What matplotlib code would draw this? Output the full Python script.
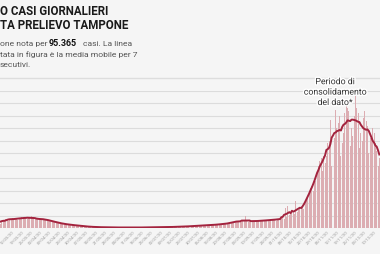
import numpy as np
import pandas as pd
import matplotlib
matplotlib.use("Agg")
import matplotlib.pyplot as plt
import matplotlib.dates as mdates
from matplotlib.lines import Line2D
import matplotlib.patheffects as pe

# daily cases by swab date, one row per week
weeks = [
    [180, 240, 290, 330, 350, 340, 300],
    [330, 370, 390, 380, 360, 350, 340],
    [380, 410, 430, 420, 400, 390, 380],
    [400, 420, 480, 410, 390, 380, 360],
    [370, 380, 360, 350, 340, 360, 350],
    [330, 300, 310, 290, 270, 260, 250],
    [240, 220, 210, 200, 190, 170, 160],
    [160, 150, 140, 145, 130, 120, 115],
    [115, 110, 100, 95, 90, 85, 80],
    [75, 70, 60, 55, 55, 50, 45],
    [45, 40, 42, 38, 35, 33, 30],
    [32, 30, 28, 30, 26, 25, 24],
    [25, 26, 22, 24, 23, 20, 22],
    [21, 19, 20, 22, 18, 17, 20],
    [18, 20, 21, 19, 22, 20, 18],
    [20, 22, 24, 23, 21, 25, 22],
    [24, 26, 25, 28, 27, 24, 26],
    [28, 30, 32, 35, 31, 29, 33],
    [36, 40, 42, 45, 38, 41, 44],
    [48, 52, 58, 60, 55, 50, 57],
    [62, 68, 75, 72, 70, 66, 78],
    [82, 88, 95, 92, 90, 85, 98],
    [100, 105, 115, 112, 108, 104, 118],
    [125, 135, 150, 145, 140, 130, 155],
    [160, 175, 190, 185, 180, 170, 200],
    [230, 250, 275, 270, 265, 240, 280],
    [260, 275, 290, 470, 280, 250, 270],
    [265, 280, 295, 290, 285, 255, 270],
    [280, 300, 315, 310, 305, 275, 310],
    [310, 330, 350, 345, 340, 300, 335],
    [340, 370, 400, 390, 380, 820, 430],
    [900, 520, 560, 600, 620, 560, 1080],
    [640, 720, 800, 820, 860, 780, 1000],
    [1100, 1300, 1500, 1600, 1700, 1500, 1900],
    [1900, 2200, 2500, 2700, 2800, 2300, 2900],
    [2600, 2900, 3400, 3500, 4350, 2500, 3300],
    [3600, 4750, 4000, 4200, 4500, 2900, 3400],
    [3800, 4600, 5050, 4800, 4700, 3300, 4000],
    [3700, 4500, 5450, 4800, 4600, 3200, 3800],
    [3500, 4400, 4700, 4300, 4100, 3000, 3600],
    [3600, 4000, 3800, 3400, 3100, 2500, 2800],
]
start_date = "2020-03-01"
title_lines = ["O CASI GIORNALIERI", "TA PRELIEVO TAMPONE"]
note_lines = ["Periodo di", "consolidamento", "del dato*"]

cases = [v for w in weeks for v in w]
dates = pd.date_range(start_date, periods=len(cases), freq="D")
s = pd.Series(cases, index=dates)
ma = s.rolling(7, center=True, min_periods=1).mean()

plt.rcParams["font.family"] = ["Roboto", "DejaVu Sans"]

bg = "#f5f5f5"
W, H = 380, 255
fig = plt.figure(figsize=(W / 100, H / 100), dpi=100, facecolor=bg)

def px(x, y):
    return x / W, 1 - y / H

ax = fig.add_axes([0, (H - 229) / H, 1, (229 - 92) / H])
ax.set_facecolor(bg)
ax.bar(dates, s.values, width=0.75, color="#dcadb2", zorder=2)
ax.plot(dates, ma.values, color="#a3233e", lw=1.4, zorder=3)
ax.set_ylim(0, 5500)
ax.set_xlim(dates[0] - pd.Timedelta(days=0.5), dates[-1] + pd.Timedelta(days=0.5))
ax.set_yticks(np.arange(0, 5501, 500))
ax.yaxis.grid(True, color="#dcdcdc", lw=0.8, zorder=0)
ax.tick_params(axis="y", left=False, labelleft=False)
ax.tick_params(axis="x", length=0, pad=1, labelsize=3, labelcolor="#9a9a9a")
ax.set_xticks(dates[11::7])
ax.xaxis.set_major_formatter(mdates.DateFormatter("%d/%m/%y"))
for lab in ax.get_xticklabels():
    lab.set_rotation(45)
    lab.set_ha("right")
for sp in ax.spines.values():
    sp.set_visible(False)

# header
for i, t in enumerate(title_lines):
    fig.text(*px(0, 15 + 14 * i), t, fontsize=8.3, fontweight="bold",
             color="#1a1a1a", va="baseline")

sub = dict(fontsize=6.1, color="#555555", va="baseline")
fig.text(*px(0, 46), "one nota per", **sub)
fig.text(*px(49, 46), "95.365", fontsize=6.4, fontweight="bold", color="#111111", va="baseline")
fig.text(*px(83, 46), "casi. La linea", **sub)
fig.text(*px(0, 57), "tata in figura è la media mobile per 7", **sub)
fig.text(*px(0, 67), "secutivi.", **sub)

fig.add_artist(Line2D([0, 1], [1 - 79 / H] * 2, color="#dddddd", lw=1))

fig.text(*px(335, 106), "\n".join(note_lines), fontsize=6.3, color="#333333",
         ha="center", va="baseline", linespacing=1.2,
         path_effects=[pe.withStroke(linewidth=2, foreground="white")])

fig.savefig("out.png", dpi=100, facecolor=bg)
